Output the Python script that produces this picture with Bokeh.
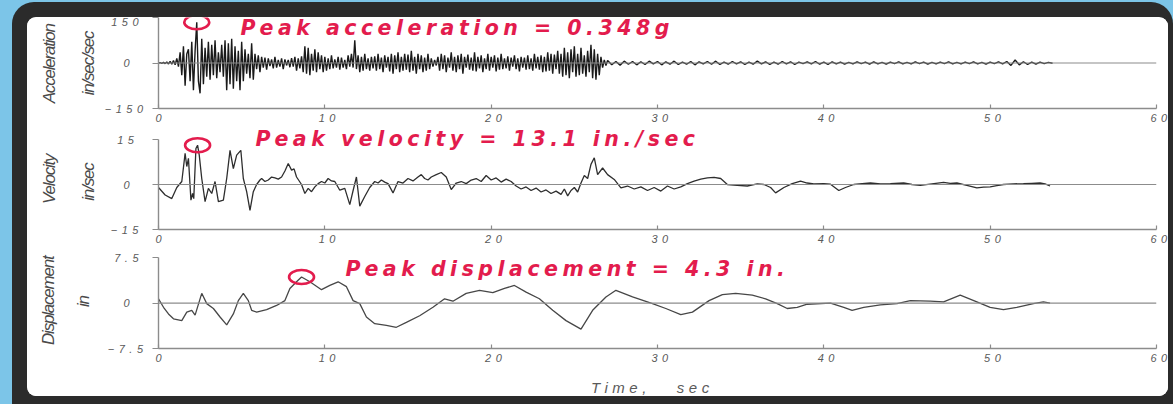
import math

from bokeh.core.properties import value
from bokeh.embed import file_html
from bokeh.layouts import column, row
from bokeh.models import FixedTicker, LinearAxis, Range1d, Span
from bokeh.plotting import figure
from bokeh.resources import INLINE

# ---------------------------------------------------------------------------
# Ground-motion records
# ---------------------------------------------------------------------------

# Acceleration (in/sec/sec), strong-motion part sampled every 0.1 s from t = 0
ACC_STRONG = [
    0, 1, -1, 2, -2, 3, -3, 5, -4, 8,
    -6, 15, -12, 35, -40, 55, -75, 30, 45, -60,
    70, -90, 40, 134.4, -60, -100, 80, -70, 50, -45,
    70, -55, 60, -40, 75, -50, 35, -30, 60, -45,
    75, -90, 65, -70, 80, -85, 55, -60, 40, -90,
    70, -60, 45, -35, 30, -50, 65, -55, 30, -20,
    25, -30, 20, -15, 18, -22, 15, -10, 12, -18,
    20, -15, 10, -12, 15, -20, 12, -8, 10, -14,
    16, -12, 20, -25, 15, -18, 22, -30, 55, -35,
    50, -40, 30, -25, 45, -30, 35, -20, 25, -30,
    20, -25, 15, -20, 25, -18, 12, -15, 20, -22,
    18, -15, 10, -20, 25, -12, 30, -15, 75, -20,
    25, -30, 20, -25, 30, -20, 15, -25, 20, -18,
    22, -25, 30, -20, 18, -30, 25, -15, 20, -28,
    30, -35, 25, -20, 35, -30, 20, -25, 30, -22,
    28, -30, 40, -25, 20, -35, 30, -20, 25, -30,
    18, -25, 30, -20, 15, -12, 10, -8, 20, -25,
    30, -20, 25, -30, 18, -15, 35, -25, 20, -30,
    25, -20, 30, -35, 20, -15, 28, -22, 18, -25,
    35, -28, 20, -18, 25, -30, 15, -20, 30, -25,
    20, -15, 25, -28, 18, -22, 30, -20, 15, -18,
    22, -25, 18, -12, 25, -20, 15, -28, 20, -15,
    18, -22, 25, -20, 15, -25, 30, -18, 20, -22,
    25, -30, 20, -28, 35, -25, 30, -35, 28, -20,
    40, -35, 30, -45, 50, -40, 35, -50, 45, -30,
    55, -45, 30, -40, 50, -35, 25, -45, 40, -30,
    60, -50, 45, -55, 30, -40, 20, -15, 10, -8,
]
ACC_STRONG_DT = 0.1

# Acceleration coda, sampled every 0.25 s from t = 27 s
ACC_TAIL = [
    8, -6, 5, -7, 6, -4, 5, -6,
    4, -5, 6, -3, 5, -6, 4, -4,
    6, -5, 3, -4, 5, -6, 4, -3,
    5, -4, 6, -5, 3, -4, 5, -3,
    4, -5, 3, -4, 6, -3, 4, -5,
    3, -4, 5, -3, 4, -5, 3, -2,
    4, -3, 5, -4, 3, -5, 4, -3,
    3, -4, 2, -3, 4, -2, 3, -4,
    4, -3, 2, -4, 3, -2, 4, -3,
    2, -3, 4, -2, 3, -4, 2, -3,
    3, -2, 4, -3, 2, -3, 3, -2,
    4, -3, 2, -4, 3, -2, 4, -3,
    5, -8, 10, -6, 4, -5, 3, -4,
    3, -2, 2, -1,
]
ACC_TAIL_START = 27.0
ACC_TAIL_DT = 0.25

# Velocity (in/sec)
VEL_T = [
    0.0, 0.4, 0.8, 1.1, 1.25, 1.4, 1.6, 1.7, 1.8, 1.95,
    2.05, 2.12, 2.25, 2.35, 2.45, 2.6, 2.8, 3.0, 3.2, 3.4,
    3.6, 3.9, 4.1, 4.3, 4.5, 4.7, 4.95, 5.1, 5.3, 5.5,
    5.7, 5.9, 6.1, 6.2, 6.4, 6.6, 6.8, 7.0, 7.2, 7.4,
    7.6, 7.8, 8.0, 8.15, 8.3, 8.6, 8.8, 9.0, 9.2, 9.4,
    9.6, 9.8, 10.0, 10.2, 10.4, 10.6, 10.9, 11.2, 11.5, 11.7,
    11.9, 12.1, 12.4, 12.7, 13.0, 13.2, 13.4, 13.6, 13.8, 14.1,
    14.4, 14.7, 15.0, 15.3, 15.6, 15.8, 16.0, 16.2, 16.4, 16.7,
    17.0, 17.3, 17.6, 17.9, 18.2, 18.5, 18.8, 19.1, 19.4, 19.7,
    20.0, 20.3, 20.6, 20.9, 21.2, 21.5, 21.8, 22.1, 22.4, 22.7,
    23.0, 23.3, 23.6, 23.9, 24.2, 24.4, 24.6, 24.8, 25.0, 25.2,
    25.4, 25.6, 25.8, 26.0, 26.2, 26.4, 26.7, 27.0, 27.4, 27.8,
    28.2, 28.6, 29.0, 29.4, 29.8, 30.2, 30.6, 31.0, 31.4, 31.8,
    32.2, 32.6, 33.0, 33.4, 33.8, 34.2, 34.8, 35.4, 36.0, 36.4,
    36.8, 37.1, 37.6, 38.1, 38.6, 39.0, 39.4, 40.0, 40.4, 40.9,
    41.3, 41.8, 42.3, 42.8, 43.4, 44.0, 44.8, 45.3, 45.8, 46.5,
    47.2, 47.6, 48.0, 48.6, 49.2, 49.6, 50.0, 50.4, 50.8, 51.4,
    52.0, 52.5, 53.0, 53.3, 53.6,
]
VEL = [
    -1.0, -3.5, -4.7, -1.0, 0.0, 1.0, 10.4, 6.0, 8.7, -5.2,
    -3.0, -4.7, 12.0, 13.1, 9.8, 2.0, -5.7, -1.3, -3.0, 1.0,
    -5.7, -5.2, 2.0, 11.4, 5.3, 9.8, 11.4, 2.0, -2.4, -8.6,
    -2.4, 0.0, 1.5, 2.0, 1.0, 1.5, 2.5, 2.2, 1.8, 2.5,
    4.5, 7.0, 4.8, 5.2, 2.5, 0.0, -3.0, -1.3, -2.4, -0.8,
    0.3, 1.0, 0.5, 2.0, 1.2, 1.0, -1.9, -1.3, -6.7, -2.0,
    2.5, -7.2, -4.0, -1.0, 1.0, 0.5, 1.5, 0.8, 0.3, -2.8,
    1.0, 0.5, 2.0, 1.2, 2.5, 3.3, 2.0, 1.5, 2.5, 3.3,
    4.0, 2.5, -1.7, 0.5, 1.0, 0.3, 1.5, 2.0, 1.0, 3.0,
    1.5, 2.2, 0.8, 1.8, 1.0, -0.5, -1.5, -0.8, -2.0, -1.2,
    -2.5, -1.8, -3.0, -2.2, -3.3, -1.5, -3.8, -2.0, -1.0, -2.5,
    0.5, 3.0, 2.0, 6.7, 8.9, 3.3, 5.5, 3.3, 1.7, -1.1,
    -0.5, -1.5, -0.8, -2.0, -1.0, -2.2, -0.5, -1.5, -0.8, 0.3,
    1.1, 1.8, 2.2, 2.4, 2.0, 0.0, -0.3, -0.5, 0.2, 0.0,
    -1.0, -2.8, -1.0, 0.3, 1.1, 0.5, 0.2, 0.3, 0.1, -2.0,
    -1.0, 0.0, 0.3, 0.5, 0.2, 0.3, 0.5, 0.0, -0.3, 0.2,
    0.7, 0.4, 0.5, -0.3, -1.1, -0.9, -0.8, -0.4, 0.0, 0.2,
    0.3, 0.4, 0.5, 0.2, -0.5,
]

# Displacement (in)
DISP_T = [
    0.0, 0.3, 0.6, 0.9, 1.4, 1.7, 2.0, 2.2, 2.6, 2.9,
    3.3, 3.7, 4.1, 4.5, 4.8, 5.1, 5.4, 5.6, 5.9, 6.5,
    7.1, 7.6, 7.9, 8.3, 8.6, 9.1, 9.8, 10.3, 10.8, 11.3,
    11.7, 12.1, 12.5, 13.0, 13.7, 14.3, 14.9, 15.7, 16.5, 17.2,
    17.7, 18.5, 19.3, 20.1, 20.8, 21.4, 22.1, 22.9, 23.7, 24.5,
    25.4, 26.1, 26.9, 27.5, 28.5, 29.7, 30.5, 31.4, 32.1, 33.1,
    33.9, 34.7, 35.7, 36.5, 37.2, 37.8, 38.4, 39.0, 40.4, 41.2,
    41.7, 42.4, 43.4, 44.4, 45.2, 46.4, 47.2, 48.2, 49.2, 50.0,
    50.8, 51.6, 52.6, 53.2, 53.6,
]
DISP = [
    0.7, -0.7, -1.8, -2.6, -2.9, -1.5, -1.2, -2.0, 1.6, -0.1,
    -0.9, -2.3, -3.6, -1.8, 0.4, 1.6, 0.4, -1.2, -1.5, -1.1,
    -0.4, 0.4, 2.4, 3.5, 4.3, 3.5, 2.2, 2.9, 3.5, 2.7,
    0.4, -0.1, -2.3, -3.4, -3.7, -4.0, -3.2, -2.1, -0.7, 0.7,
    0.3, 1.6, 2.1, 1.7, 2.4, 2.9, 1.8, 0.7, -1.2, -2.9,
    -4.3, -1.2, 1.0, 2.1, 1.0, -0.1, -0.9, -1.9, -1.5, 0.4,
    1.4, 1.6, 1.3, 0.7, -0.1, -0.9, -0.7, -0.2, 0.0, -0.7,
    -1.2, -0.7, -0.3, -0.1, 0.4, 0.3, 0.2, 1.3, 0.2, -0.7,
    -1.1, -0.7, -0.1, 0.2, 0.0,
]

# Peaks called out on each trace: (time, value)
PEAK_ACC = (2.3, 134.4)      # 0.348 g
PEAK_VEL = (2.35, 13.1)
PEAK_DISP = (8.6, 4.3)

ACC_LABEL = "Peak acceleration = 0.348g"
VEL_LABEL = "Peak velocity = 13.1 in./sec"
DISP_LABEL = "Peak displacement = 4.3 in."
TIME_LABEL = "Time,\u00a0\u00a0 sec"

X_TICKS = [0, 10, 20, 30, 40, 50, 60]
ACC_LIM = 150
VEL_LIM = 15
DISP_LIM = 7.5

# ---------------------------------------------------------------------------
# Styling
# ---------------------------------------------------------------------------
RED = "#e31c4d"
AXIS_GREY = "#8c8c8c"
TEXT_GREY = "#5a5a5a"
TICK_FONT = "Liberation Sans"
NOTE_FONT = "DejaVu Sans"
NAME_FONT = "Liberation Sans"
SPACING = "4.5px"
PLOT_W = 1069


def style_axis(ax):
    ax.axis_line_color = AXIS_GREY
    ax.axis_line_width = 1.4
    ax.major_tick_line_color = AXIS_GREY
    ax.major_tick_line_width = 1.2
    ax.minor_tick_line_color = None
    ax.major_label_text_font = TICK_FONT
    ax.major_label_text_font_style = "italic"
    ax.major_label_text_font_size = "11px"
    ax.major_label_text_color = TEXT_GREY


def fmt(v):
    if v == 0:
        return "0"
    s = ("%g" % abs(v))
    return ("\u2212" + s) if v < 0 else s


def blank(p):
    p.outline_line_color = None
    p.background_fill_color = "white"
    p.border_fill_color = "white"


def panel(height, y_end, lim):
    p = figure(
        width=PLOT_W, height=height,
        x_range=Range1d(0, 60), y_range=Range1d(-lim, y_end),
        x_axis_type=None, y_axis_type=None,
        output_backend="svg", toolbar_location=None,
        min_border_left=59, min_border_right=12,
        min_border_top=0, min_border_bottom=20,
    )
    blank(p)
    p.styles = {"letter-spacing": SPACING}

    xa = LinearAxis(ticker=FixedTicker(ticks=X_TICKS),
                    major_tick_in=4, major_tick_out=0, major_label_standoff=5)
    style_axis(xa)
    p.add_layout(xa, "below")

    yt = [-lim, 0, lim]
    ya = LinearAxis(ticker=FixedTicker(ticks=yt), bounds=(-lim, lim),
                    major_tick_in=0, major_tick_out=6, major_label_standoff=23,
                    major_label_overrides={t: fmt(t) for t in yt})
    style_axis(ya)
    p.add_layout(ya, "left")

    p.add_layout(Span(location=0, dimension="width",
                      line_color=AXIS_GREY, line_width=1.2))
    return p


def mark_peak(p, peak, text, tx, ty):
    p.ellipse(x=[peak[0]], y=[peak[1]], width=25, height=14,
              width_units="screen", height_units="screen",
              fill_color=None, line_color=RED, line_width=2.6)
    p.text(x=[tx], y=[ty], text=[text],
           text_font=value(NOTE_FONT), text_font_style="bold italic",
           text_font_size="20.5px", text_color=RED,
           text_align="left", text_baseline="middle")


# Acceleration panel
acc_t = [round(i * ACC_STRONG_DT, 2) for i in range(len(ACC_STRONG))]
acc_t += [round(ACC_TAIL_START + i * ACC_TAIL_DT, 2) for i in range(len(ACC_TAIL))]
acc_v = ACC_STRONG + ACC_TAIL

p1 = panel(111, ACC_LIM, ACC_LIM)
p1.line(acc_t, acc_v, line_color="#1a1a1a", line_width=1.4)
mark_peak(p1, PEAK_ACC, ACC_LABEL, 4.93, 116)

# Velocity panel
p2 = panel(121, 18.67, VEL_LIM)
p2.line(VEL_T, VEL, line_color="#2e2e2e", line_width=1.3)
mark_peak(p2, PEAK_VEL, VEL_LABEL, 5.83, 15.3)

# Displacement panel
p3 = panel(119, 8.83, DISP_LIM)
p3.line(DISP_T, DISP, line_color="#474747", line_width=1.3)
mark_peak(p3, PEAK_DISP, DISP_LABEL, 11.24, 5.6)

# Time caption strip under the last panel, sharing its time scale
cap = figure(width=PLOT_W, height=28, x_range=p3.x_range, y_range=Range1d(28, 0),
             x_axis_type=None, y_axis_type=None, output_backend="svg",
             toolbar_location=None, min_border_left=59, min_border_right=12,
             min_border_top=0, min_border_bottom=0)
blank(cap)
cap.styles = {"letter-spacing": SPACING}
cap.text(x=[26.0], y=[18.5], text=[TIME_LABEL], text_font=value(TICK_FONT),
         text_font_style="italic", text_font_size="15px", text_color=TEXT_GREY,
         text_align="left", text_baseline="middle")

# Quantity names, set vertically beside each panel
names = figure(width=72, height=379, x_range=Range1d(0, 72), y_range=Range1d(379, 0),
               x_axis_type=None, y_axis_type=None, output_backend="svg",
               toolbar_location=None, min_border=0)
blank(names)
names.styles = {"letter-spacing": "-1.2px"}
names.text(x=[22, 61, 22, 61, 21, 56], y=[39, 40, 157, 161, 276, 283],
           text=["Acceleration", "in/sec/sec", "Velocity", "in/sec", "Displacement", "in"],
           angle=math.pi / 2, text_font=value(NAME_FONT), text_font_style="italic",
           text_font_size="17px", text_color="#4a4a4a",
           text_align="center", text_baseline="middle")

plots = column(p1, p2, p3, cap, width=PLOT_W, height=379, spacing=0)
sheet = row(names, plots, width=1141, height=379, spacing=0, margin=(15, 5, 8, 15),
            styles={"background-color": "white", "border-radius": "9px", "overflow": "hidden"})
frame = column(sheet, width=1161, height=402, margin=(2, 0, 0, 12),
               styles={"background-color": "#2b2b2b", "border-radius": "22px 22px 0 0"})
page = column(frame, width=1173, height=404,
              styles={"background-color": "#7cc5e8"})

open("out.html", "w").write(file_html(page, INLINE))
